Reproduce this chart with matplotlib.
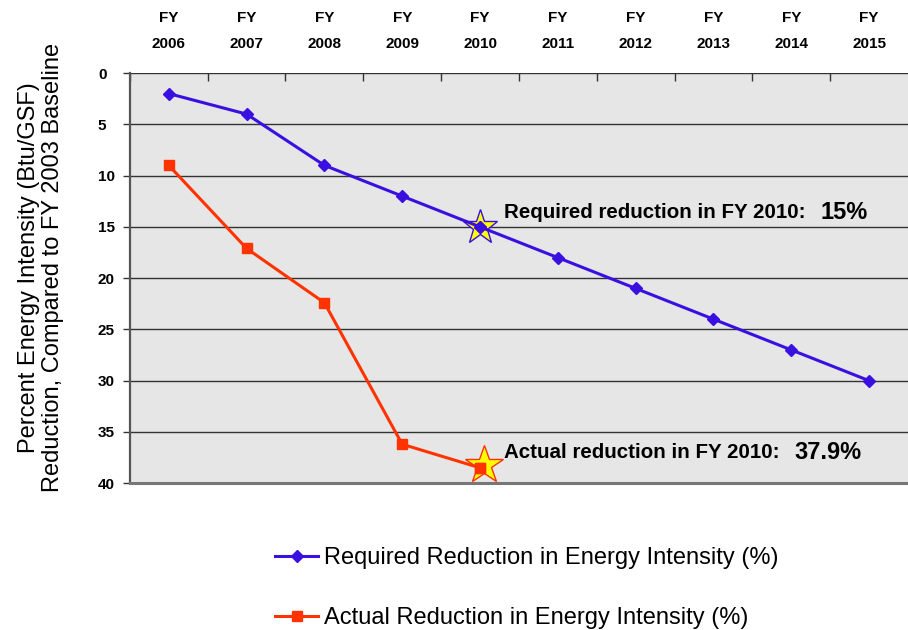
import matplotlib
matplotlib.use("Agg")
import matplotlib.pyplot as plt

plt.rcParams['font.family'] = ['Liberation Sans', 'DejaVu Sans']

years = ["FY\n2006", "FY\n2007", "FY\n2008", "FY\n2009", "FY\n2010",
         "FY\n2011", "FY\n2012", "FY\n2013", "FY\n2014", "FY\n2015"]
required = [2, 4, 9, 12, 15, 18, 21, 24, 27, 30]
actual = [9.0, 17.1, 22.4, 36.2, 38.5]
y_ticks = [0, 5, 10, 15, 20, 25, 30, 35, 40]

req_label = "Required Reduction in Energy Intensity (%)"
act_label = "Actual Reduction in Energy Intensity (%)"

fig = plt.figure(figsize=(9.08, 6.30), dpi=100)
ax = fig.add_axes([0.143, 0.233, 0.857, 0.651])
ax.set_facecolor('#e6e6e6')

x_req = list(range(len(required)))
x_act = list(range(len(actual)))

ax.set_xlim(-0.5, len(years) - 0.5)
ax.set_ylim(40, 0)

for yv in y_ticks:
    ax.axhline(yv, color='#333333', lw=1.0, zorder=1)

ax.plot(x_req, required, color='#3a10e0', lw=2.2, marker='D', ms=6,
        label=req_label, zorder=3)
ax.plot(x_act, actual, color='#ff3300', lw=2.2, marker='s', ms=7,
        label=act_label, zorder=3)

# stars at FY2010
ax.plot([4], [required[4]], marker='*', ms=26, mfc='#ffff00', mec='#3a10e0',
        mew=1, zorder=2, linestyle='none')
ax.plot([4.05], [actual[4] - 0.3], marker='*', ms=29, mfc='#ffff00', mec='#ff3300',
        mew=1, zorder=2, linestyle='none')
ax.plot([4], [required[4]], marker='D', ms=6, color='#3a10e0', zorder=4,
        linestyle='none')
ax.plot([4], [actual[4]], marker='s', ms=7, color='#ff3300', zorder=4,
        linestyle='none')

t_req = ax.text(4.31, 13.6, "Required reduction in FY 2010:", fontsize=14.8,
                fontweight='bold', ha='left', va='center')
t_act = ax.text(4.31, 37.0, "Actual reduction in FY 2010:", fontsize=14.8,
                fontweight='bold', ha='left', va='center')
ax.annotate("15%", xy=(1, 0.5), xycoords=t_req, xytext=(11, 0),
            textcoords='offset points', fontsize=17,
            fontweight='bold', ha='left', va='center')
ax.annotate("37.9%", xy=(1, 0.5), xycoords=t_act, xytext=(11, 0),
            textcoords='offset points', fontsize=17,
            fontweight='bold', ha='left', va='center')

ax.xaxis.tick_top()
ax.set_xticks(x_req)
ax.set_xticklabels(years, fontsize=11, fontweight='bold', linespacing=2.1)
ax.tick_params(axis='x', which='major', length=0, pad=16)
ax.set_xticks([i - 0.5 for i in range(len(years))], minor=True)
ax.tick_params(axis='x', which='minor', direction='in', length=6, width=1,
               color='#333333', top=True)

ax.set_yticks(y_ticks)
ax.set_yticklabels([str(v) for v in y_ticks], fontsize=11, fontweight='bold')
ax.tick_params(axis='y', length=5, width=1, color='#333333', pad=18)
for lab in ax.get_yticklabels():
    lab.set_horizontalalignment('left')

for s in ['top', 'right']:
    ax.spines[s].set_visible(False)
ax.spines['left'].set_color('#555555')
ax.spines['left'].set_linewidth(1.6)
ax.spines['bottom'].set_color('#777777')
ax.spines['bottom'].set_linewidth(2.2)

fig.text(0.045, 0.575, "Percent Energy Intensity (Btu/GSF)\nReduction, Compared to FY 2003 Baseline",
         rotation=90, fontsize=17, ha='center', va='center', linespacing=1.15)

handles, labels = ax.get_legend_handles_labels()
fig.legend(handles, labels, loc='upper left', bbox_to_anchor=(0.293, 0.147),
           frameon=False, fontsize=17, labelspacing=1.63, handlelength=1.8,
           handletextpad=0.27, borderaxespad=0)

fig.savefig("out.png", dpi=100)
